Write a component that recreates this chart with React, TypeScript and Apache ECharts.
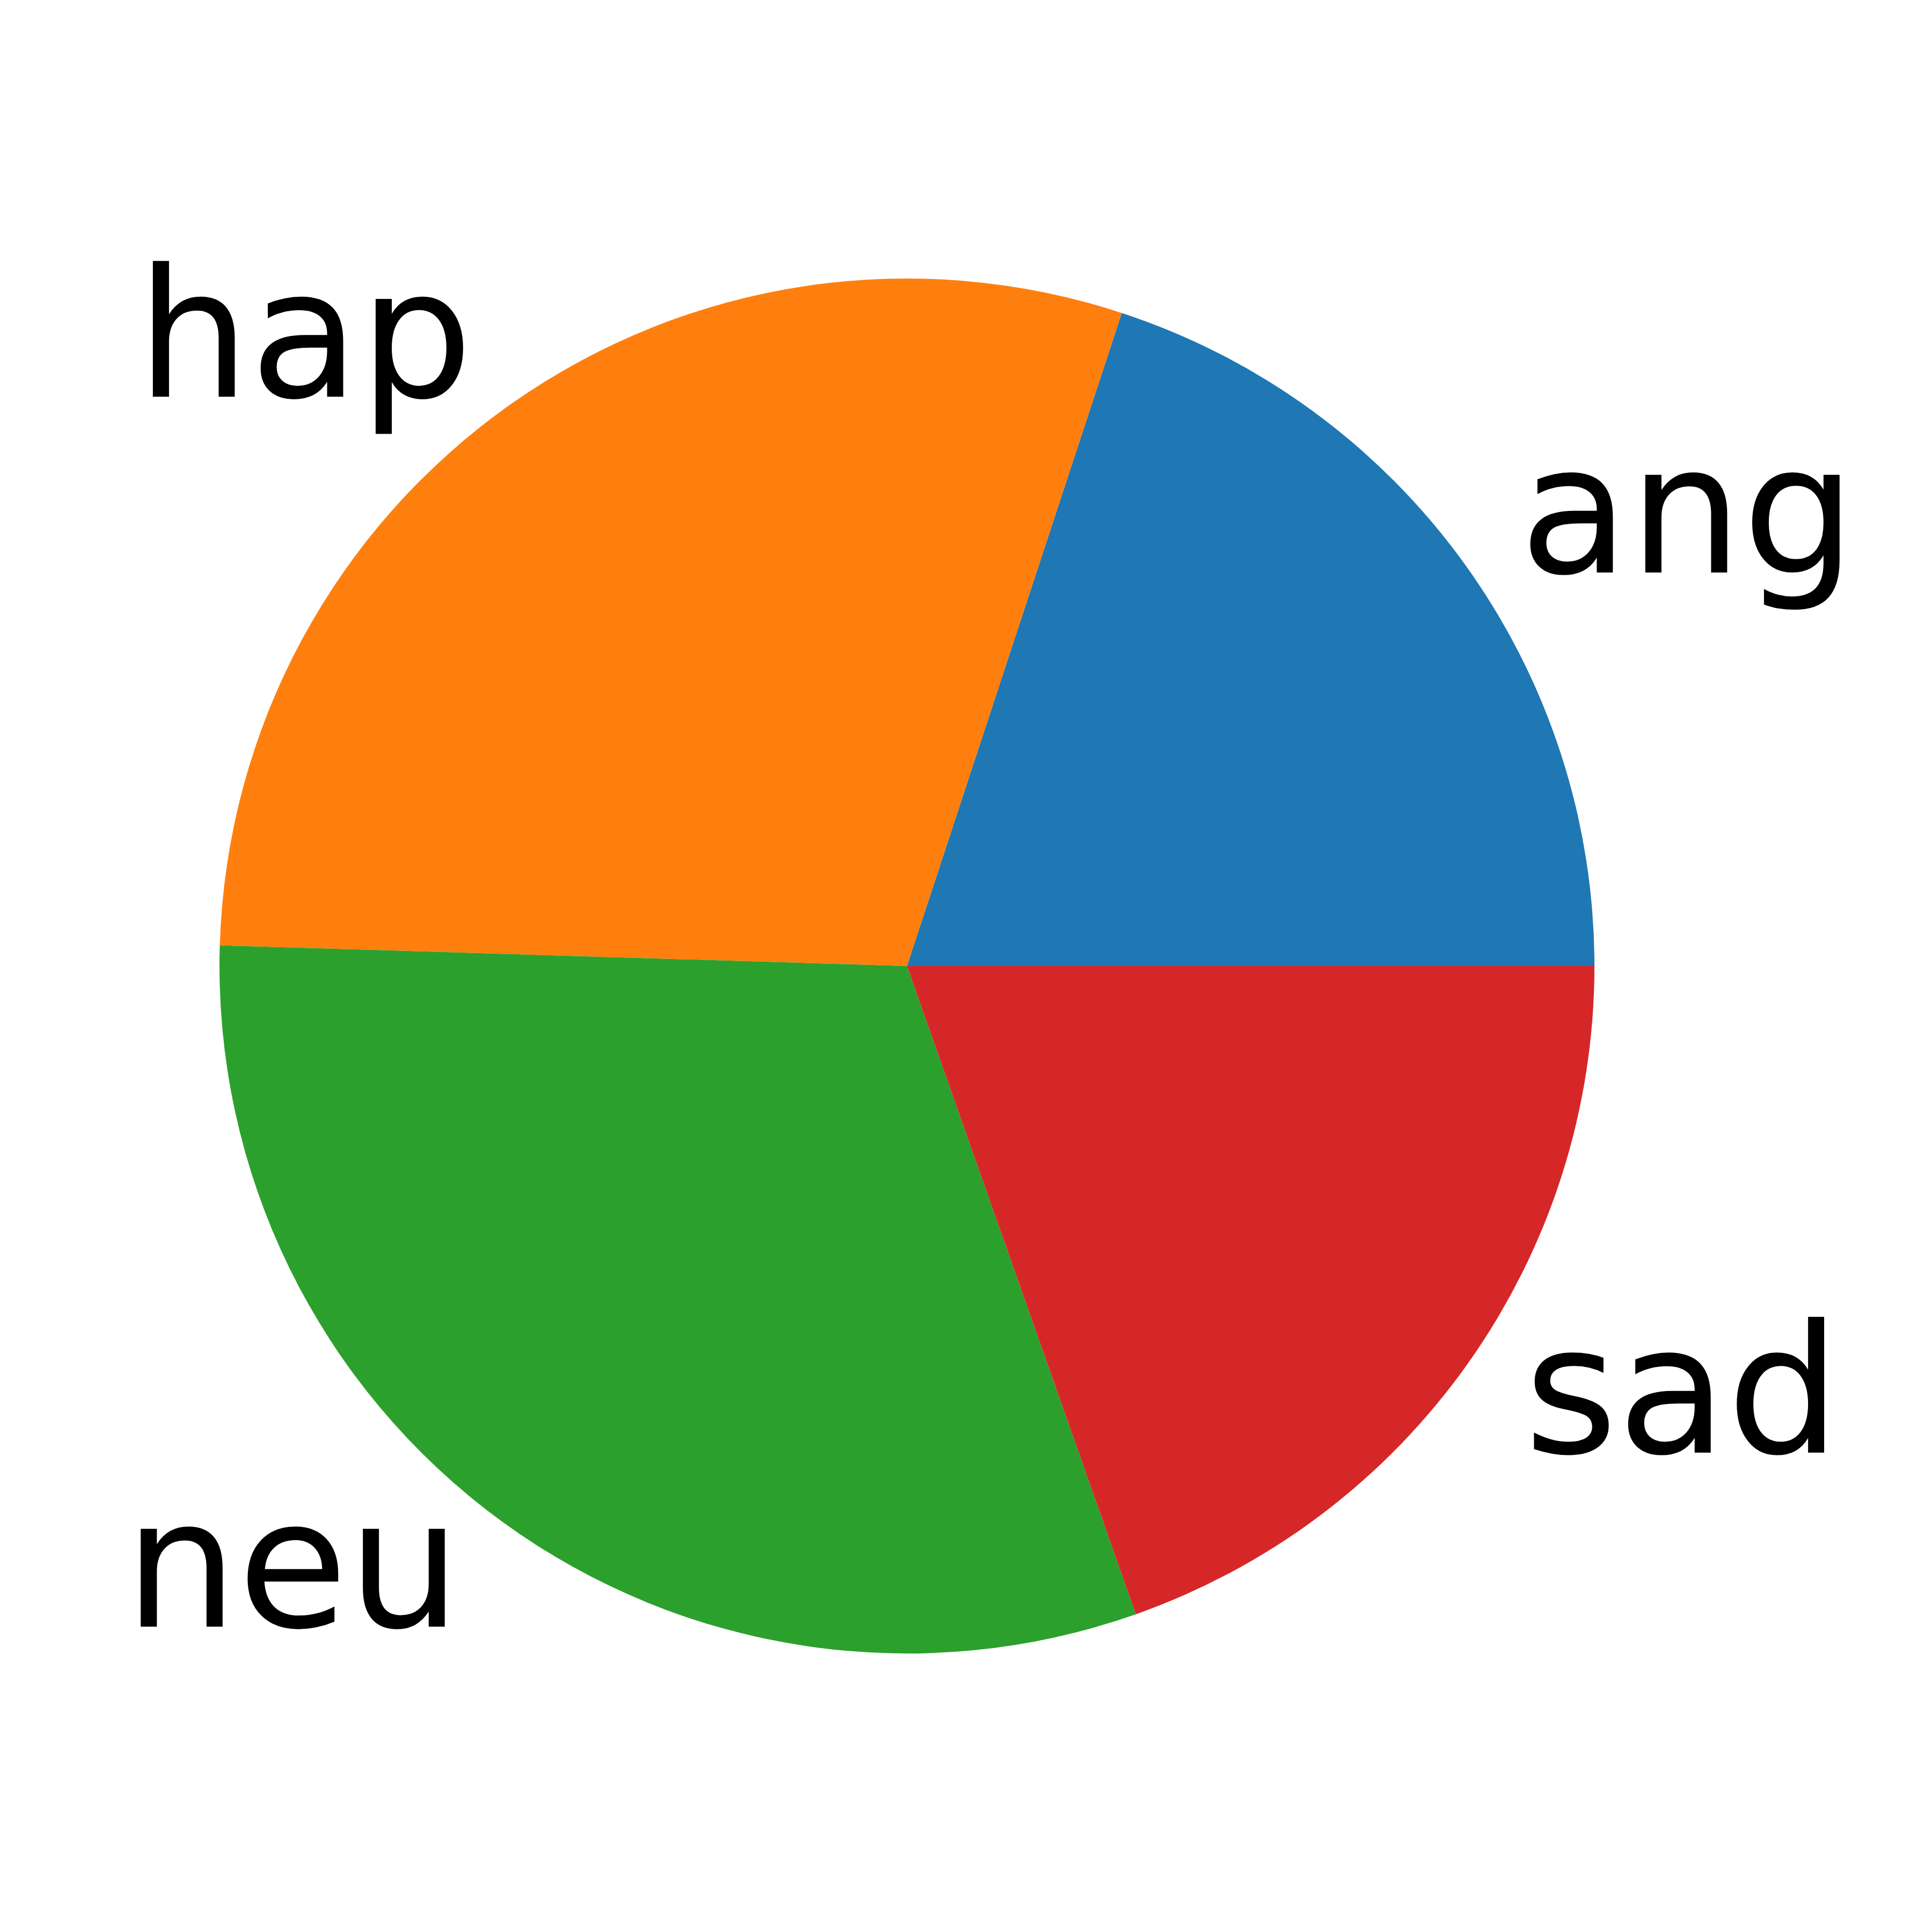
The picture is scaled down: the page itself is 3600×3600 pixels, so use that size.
import React, { useEffect, useRef } from "react";
import * as echarts from "echarts";

const categories = ["ang", "hap", "neu", "sad"];
const counts = [1103, 1636, 1708, 1084];
const colors = ["#1f77b4", "#ff7f0e", "#2ca02c", "#d62728"];

export default function App() {
  const ref = useRef<HTMLDivElement>(null);
  useEffect(() => {
    document.body.style.margin = "0";
    const chart = echarts.init(ref.current!, null, { renderer: "svg" });
    const radius = 1281;
    chart.setOption({
      animation: false,
      backgroundColor: "#ffffff",
      series: [
        {
          type: "pie",
          center: [1690, 1800],
          radius: radius,
          startAngle: 0,
          clockwise: false,
          avoidLabelOverlap: false,
          silent: true,
          emphasis: { disabled: true },
          itemStyle: { borderWidth: 0 },
          label: {
            show: true,
            position: "outside",
            formatter: "{b}",
            fontFamily: "DejaVu Sans",
            fontSize: 333,
            color: "#000000",
            distanceToLabelLine: 0,
            offset: [0, -22],
          },
          labelLine: { show: false, length: radius * 0.1, length2: 0 },
          data: categories.map((c, i) => ({
            name: c,
            value: counts[i],
            itemStyle: { color: colors[i] },
          })),
        },
      ],
    });
    return () => chart.dispose();
  }, []);
  return (
    <div
      ref={ref}
      style={{ position: "absolute", left: 0, top: 0, width: 3600, height: 3600 }}
    />
  );
}
